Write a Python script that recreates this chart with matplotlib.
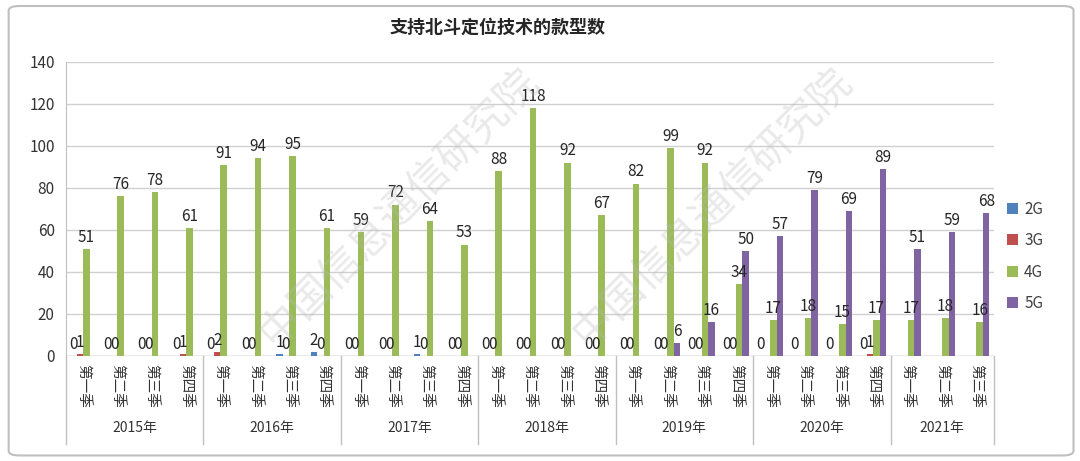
import numpy as np
import matplotlib.pyplot as plt
from matplotlib.patches import FancyBboxPatch
import matplotlib.transforms as mtransforms

plt.rcParams['font.family'] = ['Noto Sans CJK SC', 'DejaVu Sans']

years = ['2015年', '2016年', '2017年', '2018年', '2019年', '2020年', '2021年']
quarters_per_year = [4, 4, 4, 4, 4, 4, 3]
quarter_names = ['第一季', '第二季', '第三季', '第四季']

# None = no bar / no label for that quarter
g2 = [0, 0, 0, 0,  0, 0, 1, 2,  0, 0, 1, 0,  0, 0, 0, 0,  0, 0, 0, 0,  0, 0, 0, 0,  None, None, None]
g3 = [1, 0, 0, 1,  2, 0, 0, 0,  0, 0, 0, 0,  0, 0, 0, 0,  0, 0, 0, 0,  None, None, None, 1,  None, None, None]
g4 = [51, 76, 78, 61,  91, 94, 95, 61,  59, 72, 64, 53,  88, 118, 92, 67,
      82, 99, 92, 34,  17, 18, 15, 17,  17, 18, 16]
g5 = [None] * 16 + [None, 6, 16, 50,  57, 79, 69, 89,  51, 59, 68]

series = [('2G', g2, '#4F81BD'), ('3G', g3, '#C0504D'),
          ('4G', g4, '#9BBB59'), ('5G', g5, '#8064A2')]

tick_labels = []
for n in quarters_per_year:
    tick_labels += quarter_names[:n]
x = np.arange(len(tick_labels))

fig = plt.figure(figsize=(10.8, 4.61), dpi=100)
ax = fig.add_axes([0.061, 0.228, 0.859, 0.638])

# outer chart frame
fig.patches.append(FancyBboxPatch((0.008, 0.012), 0.986, 0.975, boxstyle='round,pad=0,rounding_size=0.01',
                                  transform=fig.transFigure, fill=False, ec='#bfbfbf', lw=1.5))

w = 0.19
for i, (name, vals, col) in enumerate(series):
    off = (i - 1.5) * w
    xs = [xi + off for xi, v in zip(x, vals) if v is not None]
    vs = [v for v in vals if v is not None]
    ax.bar(xs, vs, width=w, color=col, label=name, zorder=3)
    for xi, v in zip(xs, vs):
        ax.text(xi, v + 1.5, str(v), ha='center', va='bottom', fontsize=11, color='#262626', zorder=4)

ax.set_xlim(-0.5, len(x) - 0.5)
ax.set_ylim(0, 140)
ax.set_yticks(range(0, 141, 20))
ax.grid(axis='y', color='#d0d0d0', lw=1, zorder=0)
ax.tick_params(axis='y', length=0, labelsize=11, labelcolor='#333333', pad=8)
ax.tick_params(axis='x', length=0, pad=6)
for s in ['top', 'right', 'bottom']:
    ax.spines[s].set_visible(False)
ax.spines['left'].set_color('#c0c0c0')
ax.axhline(0, color='#c0c0c0', lw=1, zorder=2)

ax.set_xticks(x)
ax.set_xticklabels(tick_labels, rotation=270, fontsize=10.5, color='#333333')

# year group separators and labels under the axis
trans = mtransforms.blended_transform_factory(ax.transData, ax.transAxes)
bounds = [-0.5]
for n in quarters_per_year:
    bounds.append(bounds[-1] + n)
for b in bounds:
    ax.plot([b, b], [0, -0.30], color='#c0c0c0', lw=1, transform=trans, clip_on=False)
for yr, a, b in zip(years, bounds[:-1], bounds[1:]):
    ax.text((a + b) / 2, -0.245, yr, ha='center', va='center', fontsize=10, color='#333333',
            transform=trans)

fig.text(0.461, 0.94, '支持北斗定位技术的款型数', ha='center', va='center', fontsize=13,
         fontweight='bold', color='#262626')

ax.legend(loc='upper left', bbox_to_anchor=(1.0, 0.575), frameon=False, fontsize=11,
          handlelength=0.7, handleheight=0.7, labelspacing=0.95, handletextpad=0.4,
          labelcolor='#404040')

# watermark
for (wx, wy) in [(0.37, 0.55), (0.66, 0.55)]:
    fig.text(wx, wy, '中国信息通信研究院', rotation=45, fontsize=30, color='#b8b8b8',
             alpha=0.3, ha='center', va='center', zorder=10)

fig.savefig('out.png', dpi=100)
